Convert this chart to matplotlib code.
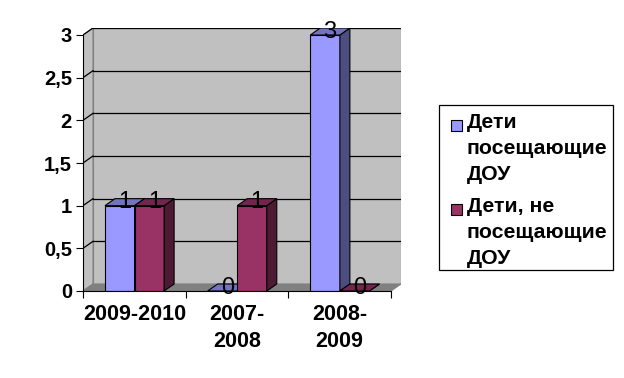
import matplotlib
matplotlib.use("Agg")
import matplotlib.pyplot as plt
from matplotlib.patches import Polygon, Rectangle
import numpy as np

categories = ["2009-2010", "2007-\n2008", "2008-\n2009"]
series_names = ["Дети\nпосещающие\nДОУ", "Дети, не\nпосещающие\nДОУ"]
attending = [1, 0, 3]
not_attending = [1, 1, 0]
y_ticks = [0, 0.5, 1, 1.5, 2, 2.5, 3]
y_tick_labels = ["0", "0,5", "1", "1,5", "2", "2,5", "3"]

plt.rcParams['font.family'] = ['Liberation Sans', 'DejaVu Sans']

W, H = 624, 378
fig = plt.figure(figsize=(W / 100, H / 100), dpi=100)
fig.patch.set_facecolor("white")

# geometry (pixels)
x0_px, y0_px = 83, 291
ux = (391 - 83) / 3.0
uy = (291 - 35) / 3.0
DX = 10 / ux
DY = 7 / uy
ymax = 3
xlim = (0, 3 + DX)
ylim = (0, ymax + DY)
ax = fig.add_axes([x0_px / W, (H - y0_px) / H,
                   (xlim[1] * ux) / W, (ylim[1] * uy) / H])
ax.set_xlim(*xlim)
ax.set_ylim(*ylim)
ax.set_facecolor("none")

wall = "#c0c0c0"
floor = "#808080"
edge_gray = "#808080"

# back wall
ax.add_patch(Polygon([(DX, DY), (3 + DX, DY), (3 + DX, ymax + DY), (DX, ymax + DY)],
                     closed=True, facecolor=wall, edgecolor=edge_gray, lw=0.8, zorder=0))
# left wall
ax.add_patch(Polygon([(0, 0), (DX, DY), (DX, ymax + DY), (0, ymax)],
                     closed=True, facecolor=wall, edgecolor=edge_gray, lw=0.8, zorder=0))
# floor
ax.add_patch(Polygon([(0, 0), (3, 0), (3 + DX, DY), (DX, DY)],
                     closed=True, facecolor=floor, edgecolor=edge_gray, lw=0.8, zorder=0.5))
# gridlines
for t in y_ticks[1:]:
    ax.plot([DX, 3 + DX], [t + DY, t + DY], color="black", lw=0.9, zorder=0.6)
    ax.plot([0, DX], [t, t + DY], color="black", lw=0.9, zorder=0.6)

# bars
n = len(categories)
idx = np.arange(n)
bw = 0.288
off1 = 0.214
front_cols = ["#9999ff", "#993366"]
top_cols = ["#7373bf", "#73264d"]
side_cols = ["#4d4d80", "#4d1a33"]
series = [attending, not_attending]

z = 2
for i in range(n):
    for s in range(2):
        v = series[s][i]
        x = i + off1 + s * bw
        ax.bar([x], [v], width=bw, align="edge", color=front_cols[s],
               edgecolor="black", lw=0.8, zorder=z)
        ax.add_patch(Polygon([(x + bw, 0), (x + bw + DX, DY), (x + bw + DX, v + DY), (x + bw, v)],
                             closed=True, facecolor=side_cols[s], edgecolor="black", lw=0.8, zorder=z))
        ax.add_patch(Polygon([(x, v), (x + bw, v), (x + bw + DX, v + DY), (x + DX, v + DY)],
                             closed=True, facecolor=top_cols[s], edgecolor="black", lw=0.8, zorder=z))
        ax.text(x + bw / 2 + DX / 2, v + DY / 2, str(v), ha="center", va="center",
                fontsize=17, color="black", zorder=z + 0.5)
        z += 1

# axes styling
for sp in ["top", "right"]:
    ax.spines[sp].set_visible(False)
ax.spines["left"].set_bounds(0, ymax)
ax.spines["bottom"].set_bounds(0, 3)
ax.spines["left"].set_zorder(20)
ax.spines["bottom"].set_zorder(20)
ax.set_yticks(y_ticks)
ax.set_yticklabels(y_tick_labels, fontsize=14.5, fontweight="bold")
ax.tick_params(axis="y", length=5, width=0.8, pad=3)
ax.set_xticks([0, 1, 2, 3])
ax.set_xticklabels([])
ax.tick_params(axis="x", which="major", length=5, width=0.8)
ax.set_xticks(idx + 0.5, minor=True)
ax.set_xticklabels(categories, minor=True, fontsize=15.5, fontweight="bold", linespacing=1.4)
ax.tick_params(axis="x", which="minor", length=0, pad=9)

# legend (manual)
fig.patches.append(Rectangle((439 / W, 1 - 270 / H), (613 - 439) / W, (270 - 105) / H,
                             transform=fig.transFigure, facecolor="white",
                             edgecolor="black", lw=0.9))
entries_top = [118, 202]
for s in range(2):
    ty = entries_top[s]
    fig.patches.append(Rectangle((451 / W, 1 - (ty + 13) / H), 11 / W, 11 / H,
                                 transform=fig.transFigure, facecolor=front_cols[s],
                                 edgecolor="black", lw=0.8))
    fig.text(467 / W, 1 - (ty - 5) / H, series_names[s], ha="left", va="top",
             fontsize=15.3, fontweight="bold", linespacing=1.45)

fig.savefig("out.png", dpi=100)
